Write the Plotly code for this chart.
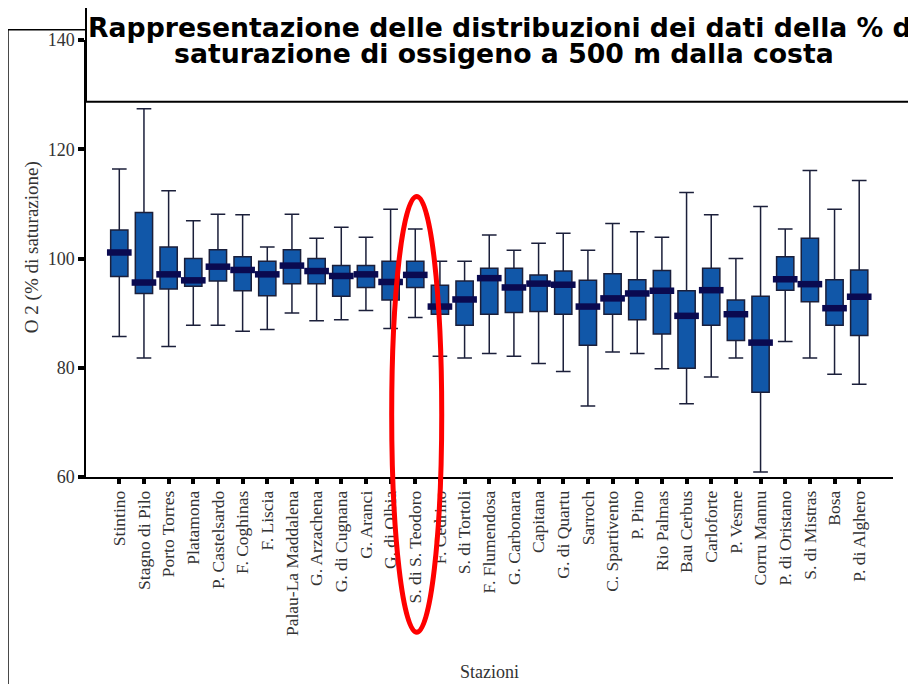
import plotly.graph_objects as go

## Data
stazioni = [
    "Stintino", "Stagno di Pilo", "Porto Torres", "Platamona", "P. Castelsardo",
    "F. Coghinas", "F. Liscia", "Palau-La Maddalena", "G. Arzachena", "G. di Cugnana",
    "G. Aranci", "G. di Olbia", "S. di S. Teodoro", "F. Cedrino", "S. di Tortoli",
    "F. Flumendosa", "G. Carbonara", "Capitana", "G. di Quartu", "Sarroch",
    "C. Spartivento", "P. Pino", "Rio Palmas", "Bau Cerbus", "Carloforte",
    "P. Vesme", "Corru Mannu", "P. di Oristano", "S. di Mistras", "Bosa", "P. di Alghero",
]
whisker_lo = [85.7, 81.8, 83.9, 87.8, 87.8, 86.7, 87.0, 90.0, 88.6, 88.8,
              90.5, 87.2, 89.2, 82.1, 81.8, 82.6, 82.1, 80.8, 79.3, 73.0,
              82.9, 82.6, 79.8, 73.4, 78.3, 81.8, 60.9, 84.8, 81.8, 78.8, 77.0]
q1 = [96.7, 93.6, 94.4, 94.9, 95.9, 94.1, 93.2, 95.4, 95.4, 93.1,
      94.7, 92.4, 94.7, 89.8, 87.8, 89.8, 90.1, 90.3, 89.8, 84.1,
      89.8, 88.8, 86.2, 79.9, 87.8, 85.0, 75.5, 94.2, 92.1, 87.8, 85.9]
mediana = [101.1, 95.6, 97.1, 96.0, 98.5, 97.9, 97.1, 98.7, 97.7, 96.8,
           97.1, 95.7, 97.0, 91.2, 92.5, 96.4, 94.7, 95.4, 95.2, 91.2,
           92.7, 93.6, 94.1, 89.5, 94.2, 89.8, 84.6, 96.2, 95.3, 90.9, 93.0]
q3 = [105.2, 108.4, 102.1, 100.0, 101.6, 100.3, 99.5, 101.6, 100.0, 98.7,
      98.7, 99.5, 99.5, 95.1, 95.9, 98.2, 98.2, 97.0, 97.7, 96.0,
      97.2, 96.1, 97.8, 94.1, 98.2, 92.4, 93.1, 100.3, 103.7, 96.1, 97.9]
whisker_hi = [116.4, 127.4, 112.4, 106.9, 108.1, 108.0, 102.1, 108.1, 103.7, 105.7,
              103.9, 109.0, 105.4, 99.5, 99.5, 104.3, 101.5, 102.8, 104.6, 101.5,
              106.4, 104.9, 103.9, 112.1, 108.0, 100.0, 109.5, 105.4, 116.1, 109.0, 114.3]
y_ticks = [60, 80, 100, 120, 140]

pos = list(range(len(stazioni)))

## Plotting
fig = go.Figure()
fig.add_trace(go.Box(
    x=pos, q1=q1, median=mediana, q3=q3,
    lowerfence=whisker_lo, upperfence=whisker_hi,
    fillcolor="#1157a8", line=dict(color="#1b1f3a", width=1.5),
    whiskerwidth=0.85, boxpoints=False, hoverinfo="skip",
))

# thick median bars
mx, my = [], []
for i, m in zip(pos, mediana):
    mx += [i - 0.5, i + 0.5, None]
    my += [m, m, None]
fig.add_trace(go.Scatter(x=mx, y=my, mode="lines",
                         line=dict(color="#0a0a50", width=6.5), hoverinfo="skip"))

serif = "Liberation Serif"
# the page body adds 8px on the left and top, margins take that into account
fig.update_layout(
    width=916, height=684,
    margin=dict(l=78, r=31, t=32, b=215),
    paper_bgcolor="white", plot_bgcolor="white",
    showlegend=False, boxgap=0, hovermode=False,
    font=dict(family=serif, color="#333333"),
)
fig.update_xaxes(
    range=[-1.35, 31.37], tickmode="array", tickvals=pos, ticktext=stazioni,
    tickangle=-90, tickfont=dict(size=17.5, family=serif, color="#333333"),
    ticks="outside", ticklen=5, tickwidth=4, tickcolor="black",
    showline=True, linecolor="black", linewidth=1.5, showgrid=False, zeroline=False,
    automargin=False,
    title=dict(text="Stazioni", font=dict(size=18, family=serif, color="#333333"), standoff=30),
)
fig.update_yaxes(
    range=[60, 140], tickvals=y_ticks,
    tickfont=dict(size=18, family=serif, color="#333333"),
    ticks="outside", ticklen=6, tickwidth=4, tickcolor="black",
    showline=True, linecolor="black", linewidth=1.5, showgrid=False, zeroline=False,
    automargin=False,
)
# y title sits a little above the middle of the axis, so it is an annotation
fig.add_annotation(text="O 2 (% di saturazione)", xref="paper", yref="paper",
                   x=-0.0669, y=0.526, textangle=-90, showarrow=False,
                   xanchor="center", yanchor="middle",
                   font=dict(size=19, family=serif, color="#333333"))

# outer frame and title box
fig.add_shape(type="rect", xref="paper", yref="paper", x0=-0.0967, x1=1.2, y0=-0.7, y1=1.0236,
              line=dict(color="black", width=1.5), layer="above")
fig.add_shape(type="rect", xref="paper", yref="paper", x0=0, x1=1.06, y0=0.8586, y1=1.0786,
              line=dict(color="black", width=2), fillcolor="white", layer="above")
title_lines = ["Rappresentazione delle distribuzioni dei dati della % di",
               "saturazione di ossigeno a 500 m dalla costa"]
for txt, yy in zip(title_lines, [1.029, 0.969]):
    fig.add_annotation(text="<b>%s</b>" % txt, xref="paper", yref="paper", x=0.518, y=yy,
                       xanchor="center", yanchor="middle", showarrow=False,
                       font=dict(family="DejaVu Sans", size=26.7, color="black"))

# red highlight around S. di S. Teodoro
fig.add_shape(type="circle", xref="paper", yref="paper", x0=0.3788, x1=0.4408, y0=-0.355, y1=0.6416,
              line=dict(color="#ff0000", width=5), layer="above")

fig.write_html("out.html")
